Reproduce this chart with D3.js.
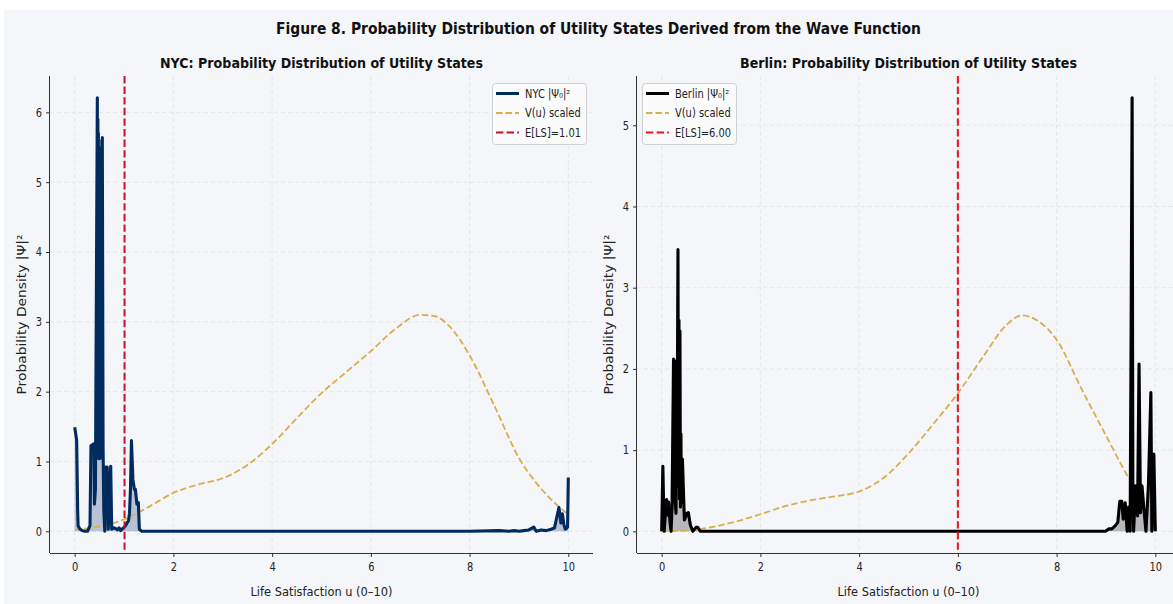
<!DOCTYPE html>
<html><head><meta charset="utf-8">
<script src="https://cdn.jsdelivr.net/npm/d3@7"></script>
<style>body{margin:0;background:#fff;}svg{display:block;font-family:"DejaVu Sans",sans-serif;}</style>
</head><body>
<svg id="c" width="1173" height="604"></svg>
<script>
// ---------- data ----------
const xTicks = [0, 2, 4, 6, 8, 10];
const nycYTicks = [0, 1, 2, 3, 4, 5, 6];
const berYTicks = [0, 1, 2, 3, 4, 5];

const nycU = [0,0.02,0.04,0.06,0.07,0.10,0.13,0.16,0.20,0.26,0.31,0.33,0.34,0.37,0.39,0.40,0.42,0.44,0.459,
  0.465,0.47,0.475,0.48,0.485,0.49,0.495,0.50,0.505,0.51,0.515,0.52,0.525,0.53,0.535,0.54,0.545,0.55,0.555,0.56,
  0.575,0.59,0.61,0.63,0.66,0.68,0.70,0.71,0.73,0.75,0.79,0.83,0.87,0.90,0.93,0.96,0.99,1.03,1.06,1.09,1.11,1.13,
  1.15,1.18,1.21,1.23,1.26,1.29,1.31,1.36,1.45,2,3,4,5,6,7,8,8.6,8.8,8.9,9.0,9.1,9.2,9.3,9.35,9.45,9.55,9.65,
  9.72,9.76,9.81,9.85,9.88,9.91,9.94,9.97,9.985,10.0];
const nycP = [1.49,1.40,1.30,0.30,0.08,0.04,0.02,0.01,0.00,0.00,0.08,1.23,1.20,1.25,1.25,0.39,0.60,3.50,6.21,
  1.10,5.90,1.05,5.70,1.10,5.40,1.04,5.20,1.10,5.10,1.15,5.30,1.05,5.40,1.20,5.50,1.10,5.60,1.30,5.64,
  1.22,0.30,0.00,0.92,0.92,0.03,0.39,0.60,0.93,0.03,0.05,0.04,0.02,0.05,0.01,0.03,0.05,0.08,0.12,0.15,0.26,0.60,
  1.30,0.74,0.60,0.60,0.39,0.41,0.03,0.00,0.00,0,0,0,0,0,0,0.00,0.01,0.00,0.01,0.00,0.01,0.02,0.06,0.00,0.02,0.01,0.03,
  0.05,0.18,0.34,0.12,0.25,0.10,0.03,0.05,0.06,0.77];

const nycVU = [0,0.5,1,1.5,2,2.5,3,3.5,4,4.5,5,5.5,6,6.5,7,7.3,7.6,8,8.5,9,9.5,10];
const nycV  = [0.02,0.07,0.17,0.35,0.55,0.67,0.76,0.95,1.25,1.62,1.98,2.28,2.58,2.90,3.10,3.08,2.93,2.52,1.80,1.05,0.57,0.24];

const berU = [0,0.024,0.05,0.08,0.10,0.12,0.14,0.17,0.19,0.21,0.24,0.25,0.265,0.27,0.29,0.30,0.31,0.33,0.34,0.35,
  0.36,0.37,0.38,0.39,0.40,0.42,0.46,0.51,0.54,0.58,0.63,0.70,0.73,0.78,0.9,2,4,6,8,8.5,8.99,9.06,9.12,9.19,
  9.24,9.28,9.32,9.35,9.39,9.43,9.46,9.49,9.51,9.53,9.545,9.56,9.60,9.64,9.67,9.70,9.73,9.77,9.81,9.86,9.91,9.93,
  9.97,10.0];
const berP = [0,0.80,0.00,0.25,0.39,0.20,0.36,0.10,0.00,0.30,2.12,0.50,2.10,0.40,0.22,1.80,0.60,3.47,0.55,2.60,
  0.40,2.47,0.30,1.20,0.35,0.89,0.14,0.22,0.23,0.08,0.00,0.05,0.05,0.00,0,0,0,0,0,0.00,0.00,0.03,0.03,0.07,
  0.11,0.37,0.37,0.15,0.35,0.00,0.30,0.00,2.50,5.34,0.50,0.00,0.56,0.19,2.06,0.23,0.56,0.27,0.00,0.56,1.71,0.00,
  0.95,0.00];

const berVU = [0,0.5,1,1.5,2,2.5,3,3.5,4,4.5,5,5.5,6,6.5,7,7.3,7.6,8,8.5,9,9.5,10];
const berV  = [0.00,0.01,0.05,0.12,0.21,0.31,0.38,0.43,0.49,0.66,0.96,1.32,1.70,2.14,2.55,2.66,2.60,2.36,1.76,1.18,0.62,0.23];

const nycMean = 1.01, berMean = 6.00;

const figTitle = "Figure 8. Probability Distribution of Utility States Derived from the Wave Function";
const nycTitle = "NYC: Probability Distribution of Utility States";
const berTitle = "Berlin: Probability Distribution of Utility States";
const xLabel = "Life Satisfaction u (0–10)";
const yLabel = "Probability Density |Ψ|²";

// ---------- drawing ----------
const svg = d3.select("#c");
const BG = "#f4f6fa";
svg.append("rect").attr("width",1173).attr("height",604).attr("fill","#ffffff");
svg.append("rect").attr("x",4).attr("y",10).attr("width",1169).attr("height",594).attr("fill",BG);

function squeeze(sel, f){
  sel.each(function(){
    const n = this.getComputedTextLength();
    d3.select(this).attr("textLength", n*f).attr("lengthAdjust","spacingAndGlyphs");
  });
}

svg.append("text").attr("x",598.5).attr("y",34).attr("text-anchor","middle")
  .attr("font-weight","bold").attr("font-size",15.5).attr("fill","#111")
  .attr("textLength",645).attr("lengthAdjust","spacingAndGlyphs").text(figTitle);

function panel(o){
  const L=o.left, R=o.left+543, T=76, B=553;
  const x = d3.scaleLinear().domain([-0.5,10.5]).range([L,R]);
  const ymax = d3.max(o.p), pad = ymax*0.05;
  const y = d3.scaleLinear().domain([-pad, ymax+pad]).range([B,T]);
  const g = svg.append("g");
  const clipId = "clip"+o.id;
  svg.append("clipPath").attr("id",clipId).append("rect").attr("x",L).attr("y",T).attr("width",R-L).attr("height",B-T);

  // grid
  const grid = g.append("g").attr("stroke","#dfe2e7").attr("stroke-width",0.8).attr("stroke-dasharray","4,3");
  xTicks.forEach(t=>grid.append("line").attr("x1",x(t)).attr("x2",x(t)).attr("y1",T).attr("y2",B));
  o.yTicks.forEach(t=>grid.append("line").attr("x1",L).attr("x2",R).attr("y1",y(t)).attr("y2",y(t)));

  const pts = o.u.map((u,i)=>[u,o.p[i]]);
  const plot = g.append("g").attr("clip-path",`url(#${clipId})`);
  // fill
  plot.append("path").datum(pts)
    .attr("d", d3.area().x(d=>x(d[0])).y0(y(0)).y1(d=>y(d[1])))
    .attr("fill", o.fill).attr("fill-opacity", o.fillOp);
  // V(u)
  const vpts = o.vu.map((u,i)=>[u,o.v[i]]);
  plot.append("path").datum(vpts)
    .attr("d", d3.line().x(d=>x(d[0])).y(d=>y(d[1])).curve(d3.curveMonotoneX))
    .attr("fill","none").attr("stroke","#d9ae4c").attr("stroke-width",1.8).attr("stroke-dasharray","6.5,3");
  // density
  plot.append("path").datum(pts)
    .attr("d", d3.line().x(d=>x(d[0])).y(d=>y(d[1])))
    .attr("fill","none").attr("stroke",o.color).attr("stroke-width",3.1).attr("stroke-linejoin","round");
  // mean line
  plot.append("line").attr("x1",x(o.mean)).attr("x2",x(o.mean)).attr("y1",T).attr("y2",B)
    .attr("stroke",o.meanColor).attr("stroke-width",2).attr("stroke-dasharray","7.4,3.2");

  // axes
  const xa = g.append("g").attr("transform",`translate(0,${B})`)
    .call(d3.axisBottom(x).tickValues(xTicks).tickFormat(d3.format("d")).tickSize(4).tickPadding(5));
  const ya = g.append("g").attr("transform",`translate(${L},0)`)
    .call(d3.axisLeft(y).tickValues(o.yTicks).tickFormat(d3.format("d")).tickSize(4).tickPadding(4));
  [xa,ya].forEach(a=>{
    a.select(".domain").attr("stroke","#333").attr("stroke-width",1);
    a.selectAll(".tick line").attr("stroke","#333");
    a.selectAll("text").attr("font-size",12).attr("fill","#222").attr("font-family","DejaVu Sans");
    squeeze(a.selectAll("text"),0.82);
  });
  xa.select(".domain").attr("d",`M${L},0.5H${R}`);
  ya.select(".domain").attr("d",`M-0.5,${B}V${T}`);

  // titles & labels
  g.append("text").attr("x",(L+R)/2).attr("y",68).attr("text-anchor","middle")
    .attr("font-weight","bold").attr("font-size",13.5).attr("fill","#111")
    .attr("textLength",o.titleW).attr("lengthAdjust","spacingAndGlyphs").text(o.title);
  g.append("text").attr("x",(L+R)/2).attr("y",596).attr("text-anchor","middle")
    .attr("font-size",12).attr("fill","#222")
    .attr("textLength",142).attr("lengthAdjust","spacingAndGlyphs").text(xLabel);
  g.append("text").attr("transform",`translate(${L-24},${(T+B)/2}) rotate(-90)`).attr("text-anchor","middle")
    .attr("font-size",12).attr("fill","#222")
    .attr("textLength",160).attr("lengthAdjust","spacingAndGlyphs").text(yLabel);

  // legend
  const lg = g.append("g").attr("transform",`translate(${o.legX},83)`);
  lg.append("rect").attr("x",0.5).attr("y",0.5).attr("width",o.legW).attr("height",61).attr("rx",3)
    .attr("fill","#fbfbfc").attr("fill-opacity",0.85).attr("stroke","#d0d0d0");
  const items = [
    {t:o.legLabel, c:o.color, w:3, dash:null},
    {t:"V(u) scaled", c:"#d9ae4c", w:1.8, dash:"6.5,3"},
    {t:`E[LS]=${o.mean.toFixed(2)}`, c:o.meanColor, w:2.2, dash:"7.4,3.2"}
  ];
  items.forEach((it,i)=>{
    const yy = 10.5 + i*19.5;
    lg.append("line").attr("x1",4).attr("x2",27).attr("y1",yy).attr("y2",yy)
      .attr("stroke",it.c).attr("stroke-width",it.w).attr("stroke-dasharray",it.dash);
    const t = lg.append("text").attr("x",33).attr("y",yy+4).attr("font-size",11.5).attr("fill","#222").text(it.t);
    squeeze(t,0.86);
  });
}

panel({id:"n", left:50, u:nycU, p:nycP, vu:nycVU, v:nycV, yTicks:nycYTicks, color:"#002b5f",
  fill:"#2f4a7a", fillOp:0.3, mean:nycMean, meanColor:"#c8102e", title:nycTitle, titleW:323,
  legX:492, legW:94, legLabel:"NYC |Ψ₀|²"});
panel({id:"b", left:637, u:berU, p:berP, vu:berVU, v:berV, yTicks:berYTicks, color:"#000000",
  fill:"#000000", fillOp:0.25, mean:berMean, meanColor:"#e8131b", title:berTitle, titleW:337,
  legX:642, legW:94, legLabel:"Berlin |Ψ₀|²"});
</script>
</body></html>
